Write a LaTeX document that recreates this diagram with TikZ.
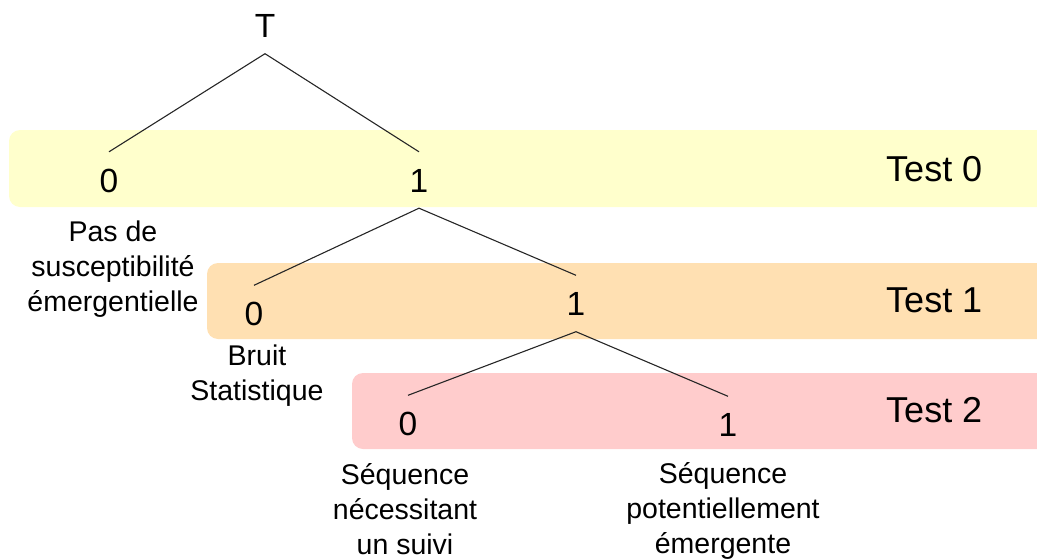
\documentclass[tikz,border=0pt]{standalone}
\usepackage{fontspec}
\setmainfont{Liberation Sans}
\definecolor{bandY}{RGB}{255,255,204}
\definecolor{bandO}{RGB}{255,224,178}
\definecolor{bandR}{RGB}{255,204,204}
\begin{document}
\begin{tikzpicture}[x=1pt,y=-1pt,
  band/.style={rounded corners=11pt},
  digit/.style={font=\fontsize{33.5}{36}\selectfont, text height=24pt, text depth=0pt, inner xsep=0pt, inner ysep=16pt},
  testlbl/.style={font=\fontsize{36}{40}\selectfont, anchor=west, inner sep=0pt},
  desc/.style={font=\fontsize{28.5}{35}\selectfont, align=center, anchor=base, inner sep=0pt},
  edge/.style={draw=black!85, line width=1.1pt}]
\useasboundingbox (0,0) rectangle (1037,560);
\clip (0,0) rectangle (1037,560);
% bands
\fill[bandY, band] (9,130) rectangle (1060,207);
\fill[bandO, band] (207,263) rectangle (1060,339);
\fill[bandR, band] (352,373) rectangle (1060,449);
% tree nodes
\node[digit] (T) at (265,25.5) {T};
\node[digit] (a0) at (109,180) {0};
\node[digit] (a1) at (419,180) {1};
\node[digit] (b0) at (254,313.5) {0};
\node[digit] (b1) at (576,303.5) {1};
\node[digit] (c0) at (408,423.5) {0};
\node[digit] (c1) at (728,424.5) {1};
% edges
\draw[edge] (a0.north) -- (T.south) -- (a1.north);
\draw[edge] (b0.north) -- (a1.south) -- (b1.north);
\draw[edge] (c0.north) -- (b1.south) -- (c1.north);
% test labels
\node[testlbl] (t0) at (886,169) {Test 0};
\node[testlbl] (t1) at (886,300) {Test 1};
\node[testlbl] (t2) at (886,410) {Test 2};
% descriptions
\node[desc] (d0) at (113,311) {Pas de\\susceptibilité\\émergentielle};
\node[desc] (d1) at (257,400) {Bruit\\Statistique};
\node[desc] (d2) at (405,554) {Séquence\\nécessitant\\un suivi};
\node[desc] (d3) at (723,553) {Séquence\\potentiellement\\émergente};
\end{tikzpicture}
\end{document}
